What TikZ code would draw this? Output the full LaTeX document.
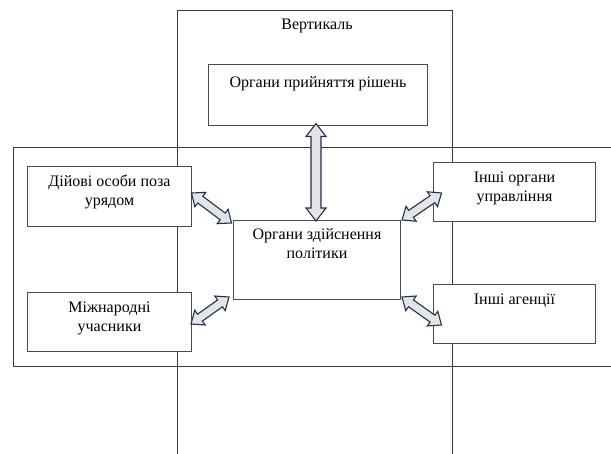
\documentclass[tikz,border=0pt]{standalone}
\usepackage{fontspec}
\setmainfont{Liberation Serif}
\usetikzlibrary{calc}
\definecolor{framecol}{HTML}{3A3A3A}
\definecolor{boxcol}{HTML}{4A4A4A}
\definecolor{arrowline}{HTML}{1F3050}
\definecolor{arrowfill}{HTML}{E4E4E4}
\tikzset{
  frame/.style={draw=framecol, line width=1pt},
  box/.style={draw=boxcol, fill=white, line width=1pt, anchor=north west, inner sep=0pt},
  txt/.style={anchor=base, inner sep=0pt, align=center, font=\fontsize{16}{19}\selectfont},
  dbl/.style={draw=arrowline, fill=arrowfill, line width=1.1pt, line join=miter},
}
% double block arrow between two named coordinates
% #1,#2 ends; #3 shaft half-width; #4 head half-width; #5 head length
\newcommand{\blockdbl}[5]{%
  \path[dbl] (#1)
    -- ($(#1)!#5!(#2)!#4!90:(#2)$)
    -- ($(#1)!#5!(#2)!#3!90:(#2)$)
    -- ($(#2)!#5!(#1)!#3!-90:(#1)$)
    -- ($(#2)!#5!(#1)!#4!-90:(#1)$)
    -- (#2)
    -- ($(#2)!#5!(#1)!#4!90:(#1)$)
    -- ($(#2)!#5!(#1)!#3!90:(#1)$)
    -- ($(#1)!#5!(#2)!#3!-90:(#2)$)
    -- ($(#1)!#5!(#2)!#4!-90:(#2)$)
    -- cycle;}
\begin{document}
\begin{tikzpicture}[x=1pt,y=-1pt]
\clip (0,0) rectangle (611,453);
\fill[white] (0,0) rectangle (611,453);
% frames
\draw[frame] (177,10) rectangle (452,470);
\draw[frame] (13,147.5) rectangle (630,366);
\node[txt] (vert) at (317,29.5) {Вертикаль};
% boxes (text anchored at the baseline of its last line)
\node[box, minimum width=219pt, minimum height=61pt] (top) at (208,64) {};
\node[txt] at ($(top.north)+(0,23)$) {Органи прийняття рішень};
\node[box, minimum width=164pt, minimum height=60pt] (l1) at (27,165.5) {};
\node[txt] at ($(l1.north)+(0,39.5)$) {Дійові особи поза\\урядом};
\node[box, minimum width=164pt, minimum height=59pt] (l2) at (27,292) {};
\node[txt] at ($(l2.north)+(0,39)$) {Міжнародні\\учасники};
\node[box, minimum width=167pt, minimum height=79pt] (c) at (233,220) {};
\node[txt] at ($(c.north)+(0,38)$) {Органи здійснення\\політики};
\node[box, minimum width=162pt, minimum height=59pt] (r1) at (433,162) {};
\node[txt] at ($(r1.north)+(0,39.5)$) {Інші органи\\управління};
\node[box, minimum width=162pt, minimum height=59pt] (r2) at (433,284) {};
\node[txt] at ($(r2.north)+(0,20.5)$) {Інші агенції};
% arrow ends
\coordinate (vA) at (316,123.5);
\coordinate (vB) at (316,221);
\coordinate (l1A) at (191.5,193);
\coordinate (l1B) at (231.5,223);
\coordinate (l2A) at (191,324);
\coordinate (l2B) at (229,297);
\coordinate (r1A) at (402,220);
\coordinate (r1B) at (441.5,193);
\coordinate (r2A) at (402,297);
\coordinate (r2B) at (441.5,325);
\blockdbl{vA}{vB}{5pt}{10pt}{13pt}
\blockdbl{l1A}{l1B}{4.2pt}{9pt}{11pt}
\blockdbl{l2A}{l2B}{4.2pt}{9pt}{11pt}
\blockdbl{r1A}{r1B}{4.2pt}{9pt}{11pt}
\blockdbl{r2A}{r2B}{4.2pt}{9pt}{11pt}
\end{tikzpicture}
\end{document}
